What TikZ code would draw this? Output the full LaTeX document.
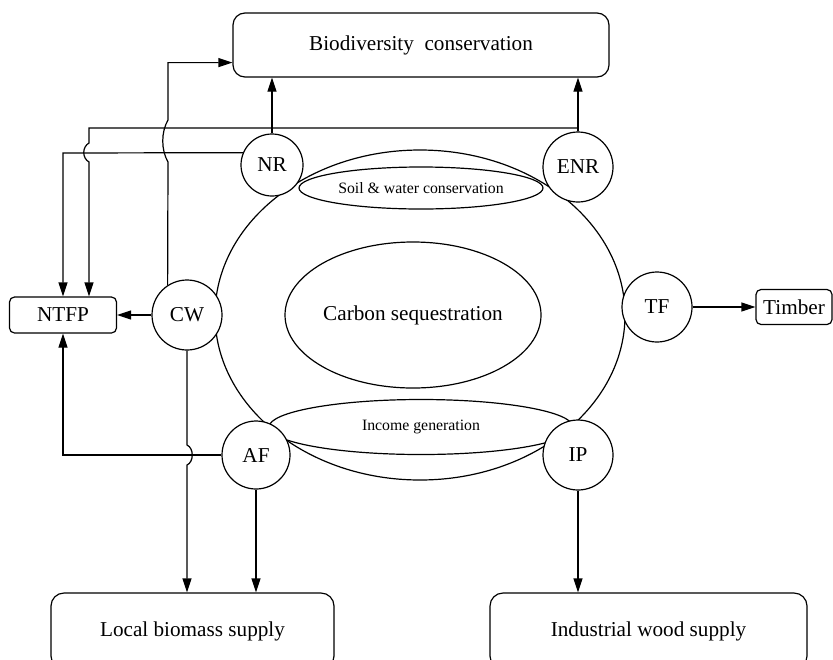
\documentclass[tikz,border=0pt]{standalone}
\usepackage{fontspec}
\setmainfont{Liberation Serif}
\usetikzlibrary{arrows.meta,shapes.geometric,calc}
\begin{document}
\begin{tikzpicture}[x=0.5pt,y=-0.5pt,
  line width=0.6pt,
  every node/.style={inner sep=0pt,font=\fontsize{10.6}{12}\selectfont},
  hub/.style={circle,draw,fill=white,minimum size=35pt},
  box/.style={rectangle,rounded corners=6pt,draw,fill=white},
  tag/.style={rectangle,rounded corners=2.5pt,draw,fill=white},
  oval/.style={ellipse,draw},
  small/.style={font=\fontsize{7.9}{9}\selectfont},
  flow/.style={-{Triangle[length=7pt,width=4.5pt]}},
]
\useasboundingbox (0,0) rectangle (833,659);

% outer outline of the land-use field and the inner services
\node[oval,minimum width=205pt,minimum height=165pt] (field) at (420,315) {};
\node[oval,minimum width=128pt,minimum height=73pt] (carbon) at (413,315) {Carbon sequestration};
\node[oval,small,minimum width=122pt,minimum height=21pt] (soil) at (421,188) {Soil \& water conservation};
\node[oval,small,minimum width=152pt,minimum height=27.5pt] (income) at (421,427) {Income generation};

% land-use options
\node[hub,minimum size=31pt] (NR) at (272,165) {NR};
\node[hub] (ENR) at (578,167) {ENR};
\node[hub] (CW) at (187,315) {CW};
\node[hub] (TF) at (657,307) {TF};
\node[hub,minimum size=34pt] (AF) at (256,455) {AF};
\node[hub] (IP) at (578,455) {IP};

% outputs
\node[box,minimum width=188pt,minimum height=32pt] (bio) at (421,45) {Biodiversity\ \ conservation};
\node[tag,minimum width=38pt,minimum height=17.5pt] (timber) at (794,307) {Timber};
\node[tag,minimum width=53.5pt,minimum height=18pt] (ntfp) at (63,315) {NTFP};
\node[box,rounded corners=6.5pt,minimum width=141.5pt,minimum height=38pt] (local) at (192.5,631) {Local biomass supply};
\node[box,rounded corners=6.5pt,minimum width=158.5pt,minimum height=38pt] (indus) at (648.5,631) {Industrial wood supply};

% flows
\draw[flow] (NR.north) -- (bio.south -| NR.north);
\draw[flow] (ENR.north) -- (bio.south -| ENR.north);
\draw[flow] (ENR.north) -- (578,128) -- (89,128) -- (89,143)
  .. controls (82,147) and (82,158) .. (89,162) -- ($(ntfp.north)+(26,0)$);
\draw[flow] (NR.157) -- (63,153) -- (ntfp.north);
\draw[flow] (CW.123) -- (168,162) .. controls (161,150) and (161,132) .. (168,120)
  |- ($(bio.south west)+(0,-15)$);
\draw[flow] (CW.west) -- (ntfp.east);
\draw[flow] (CW.south) -- (187,445) .. controls (194,448) and (194,462) .. (187,465)
  -- (local.north -| CW.south);
\draw[flow] (AF.west) -- (63,455) -- (ntfp.south);
\draw[flow] (AF.south) -- (local.north -| AF.south);
\draw[flow] (IP.south) -- (indus.north -| IP.south);
\draw[flow] (TF.east) -- (timber.west);
\end{tikzpicture}
\end{document}
